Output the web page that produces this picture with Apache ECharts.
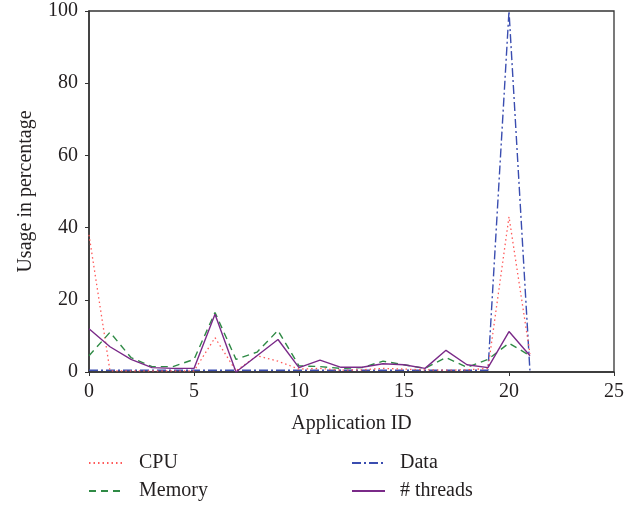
<!DOCTYPE html>
<html>
<head>
<meta charset="utf-8">
<script src="https://cdn.jsdelivr.net/npm/echarts@6/dist/echarts.min.js"></script>
<style>html,body{margin:0;padding:0;background:#fff}#c{width:634px;height:509px}</style>
</head>
<body>
<div id="c"></div>
<script>
const appIds = [0,1,2,3,4,5,6,7,8,9,10,11,12,13,14,15,16,17,18,19,20,21];
const cpu     = [38, 0.3, 0.3, 0.3, 0.3, 0.3, 9.5, 0.3, 4.5, 3, 0.8, 1, 0.5, 0.6, 1, 0.8, 0.6, 0.5, 0.6, 1, 43, 5];
const memory  = [4.5, 11, 4, 1.5, 1.5, 3.5, 16.5, 3.5, 5.5, 11.5, 1.7, 1.5, 1, 1.2, 3, 2, 1, 4, 1.3, 3.5, 8, 4.5];
const dataUse = [0.5, 0.5, 0.5, 0.5, 0.5, 0.5, 0.5, 0.5, 0.5, 0.5, 0.5, 0.5, 0.5, 0.5, 0.5, 0.5, 0.5, 0.5, 0.5, 0.5, 100, 0];
const threads = [12, 7, 3.5, 1.2, 1.0, 1.0, 16, 0, 4.5, 9, 1.2, 3.3, 1.3, 1.3, 2.3, 2, 1, 6, 2, 1.2, 11.2, 4.5];
const seriesNames = ['CPU', 'Memory', 'Data', '# threads'];
const xTitle = 'Application ID';
const yTitle = 'Usage in percentage';

const font = 'Liberation Serif';
const chart = echarts.init(document.getElementById('c'));
function pairs(arr){ return arr.map((v,i)=>[appIds[i], v]); }
const styles = [
  {color:'#ff5a5a', type:[1.5,3], width:1.3},
  {color:'#2f8a45', type:[7,5], width:1.4},
  {color:'#3a4db0', type:[9,3,2,3], width:1.4},
  {color:'#7a2a88', type:'solid', width:1.4}
];
const dataArrs = [cpu, memory, dataUse, threads];
function legendCfg(names, left, pad){
  return {data:names, left:left, orient:'vertical', top:453, padding:0, height:60,
    itemWidth:33, itemHeight:12, itemGap:8,
    itemStyle:{opacity:0},
    textStyle:{fontFamily:font, fontSize:20, color:'#231f20', padding:[0,0,0,pad]}};
}
chart.setOption({
  animation:false,
  grid:{left:89, right:20, top:11, bottom:137, show:true, borderColor:'#333', borderWidth:1.3},
  xAxis:{type:'value', min:0, max:25, interval:5,
    name:xTitle, nameLocation:'middle', nameGap:42,
    nameTextStyle:{fontFamily:font, fontSize:20, color:'#231f20'},
    axisLine:{show:true, onZero:false, lineStyle:{color:'#333', width:1.5}},
    axisTick:{show:true, inside:false, length:4, lineStyle:{color:'#333'}},
    axisLabel:{fontFamily:font, fontSize:20, color:'#231f20', margin:10},
    splitLine:{show:false}},
  yAxis:{type:'value', min:0, max:100, interval:20,
    name:yTitle, nameLocation:'middle', nameGap:53,
    nameTextStyle:{fontFamily:font, fontSize:20, color:'#231f20'},
    axisLine:{show:true, lineStyle:{color:'#333', width:1.5}},
    axisTick:{show:true, inside:false, length:4, lineStyle:{color:'#333'}},
    axisLabel:{fontFamily:font, fontSize:20, color:'#231f20', margin:11},
    splitLine:{show:false}},
  legend:[
    legendCfg([seriesNames[0], seriesNames[1]], 88, 12),
    legendCfg([seriesNames[2], seriesNames[3]], 351, 10)
  ],
  series: seriesNames.map((n,i)=>({
    name:n, type:'line', data:pairs(dataArrs[i]), symbol:'none', showSymbol:false,
    itemStyle:{color:styles[i].color},
    lineStyle:{color:styles[i].color, type:styles[i].type, width:styles[i].width},
    z: i===2 ? 1 : 2
  }))
});
</script>
</body>
</html>
